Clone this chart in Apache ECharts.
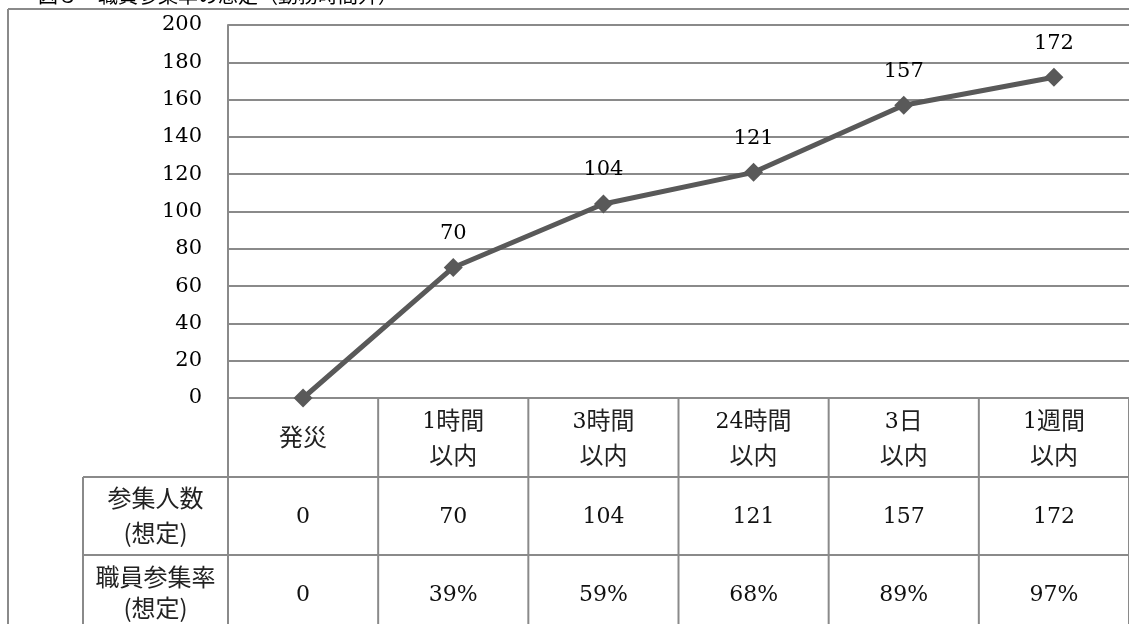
<!DOCTYPE html>
<html style="height: 100%">
<head>
	<meta charset="utf-8">
	<title>職員参集率の想定</title>
	<script src="https://cdn.jsdelivr.net/npm/echarts@6/dist/echarts.min.js"></script>
</head>
<body style="height: 100%; margin: 0; background: #fff">
	<div id="main" style="width: 1129px; height: 624px"></div>
	<script type="text/javascript">
		// chart data
		var titleText = '図３　職員参集率の想定（勤務時間外）';
		var categories = ['発災', '1時間\n以内', '3時間\n以内', '24時間\n以内', '3日\n以内', '1週間\n以内'];
		var staffCount = [0, 70, 104, 121, 157, 172];
		var staffRate = ['0', '39%', '59%', '68%', '89%', '97%'];
		var rowLabels = ['参集人数\n(想定)', '職員参集率\n(想定)'];
		var yTicks = [0, 20, 40, 60, 80, 100, 120, 140, 160, 180, 200];

		var serif = "'DejaVu Serif', serif";
		var cjk = "'Noto Sans CJK JP', sans-serif";
		var lineCol = '#595959';
		var gridCol = '#8a8a8a';

		var dom = document.getElementById('main');
		var myChart = echarts.init(dom);

		var option = {
			animation: false,
			grid: { left: 228, right: -5, top: 25, bottom: 226 },
			xAxis: {
				type: 'category',
				data: categories,
				boundaryGap: true,
				axisLine: { show: true, lineStyle: { color: gridCol, width: 2 } },
				axisTick: { show: false },
				axisLabel: { show: false },
				splitLine: { show: false }
			},
			yAxis: {
				type: 'value',
				min: yTicks[0],
				max: yTicks[yTicks.length - 1],
				interval: 20,
				axisLine: { show: true, lineStyle: { color: gridCol, width: 2 } },
				axisTick: { show: false },
				axisLabel: { color: '#000', fontFamily: serif, fontSize: 21, margin: 26 },
				splitLine: { show: true, lineStyle: { color: gridCol, width: 2 } }
			},
			series: [{
				type: 'line',
				data: staffCount,
				symbol: 'diamond',
				symbolSize: 19,
				lineStyle: { color: lineCol, width: 5 },
				itemStyle: { color: lineCol },
				label: {
					show: true,
					position: 'top',
					distance: 14,
					color: '#000',
					fontFamily: serif,
					fontSize: 21,
					formatter: function(p) { return p.value === 0 ? '' : p.value; }
				}
			}]
		};
		myChart.setOption(option);

		// data table under the plot
		var g = [];
		var x0 = myChart.convertToPixel({ xAxisIndex: 0 }, 0);
		var x1 = myChart.convertToPixel({ xAxisIndex: 0 }, 1);
		var colW = x1 - x0;
		var yBase = myChart.convertToPixel({ yAxisIndex: 0 }, 0);
		var row1 = yBase + 79, row2 = row1 + 78, bottom = 650;
		var labelLeft = 83;
		var lineSt = { stroke: gridCol, lineWidth: 2 };

		// outer frame
		g.push({ type: 'line', shape: { x1: 8, y1: 9, x2: 8, y2: bottom }, style: lineSt });
		g.push({ type: 'line', shape: { x1: 8, y1: 9, x2: 1140, y2: 9 }, style: lineSt });
		g.push({ type: 'text', left: 38, top: -15, style: { text: titleText, font: "20px " + cjk, fill: '#000' } });

		for (var b = 0; b <= categories.length; b++) {
			var xb = x0 - colW / 2 + b * colW;
			g.push({ type: 'line', shape: { x1: xb, y1: yBase, x2: xb, y2: bottom }, style: lineSt });
		}
		g.push({ type: 'line', shape: { x1: labelLeft, y1: row1, x2: labelLeft, y2: bottom }, style: lineSt });
		g.push({ type: 'line', shape: { x1: labelLeft, y1: row1, x2: 1140, y2: row1 }, style: lineSt });
		g.push({ type: 'line', shape: { x1: labelLeft, y1: row2, x2: 1140, y2: row2 }, style: lineSt });

		// digits in serif, japanese in cjk font; digits next to kanji get nudged down
		var richify = function(s) {
			return s.split('\n').map(function(line) {
				var mixed = /[0-9%]/.test(line) && /[^0-9%]/.test(line);
				return line.replace(/([0-9%]+)|([^0-9%]+)/g, function(m, d, j) {
					return d ? '{' + (mixed ? 'm' : 'n') + '|' + d + '}' : '{j|' + j + '}';
				});
			}).join('\n');
		};
		var txt = function(x, y, s, lh) {
			lh = lh || 34;
			return {
				type: 'text', x: x, y: y,
				style: {
					text: richify(s), align: 'center', verticalAlign: 'middle',
					rich: {
						n: { fontFamily: serif, fontSize: 22, fill: '#111', lineHeight: lh },
						m: { fontFamily: serif, fontSize: 22, fill: '#111', lineHeight: lh, padding: [5, 0, 0, 0] },
						j: { fontFamily: cjk, fontSize: 24, fill: '#222', lineHeight: lh }
					}
				}
			};
		};
		var lx = (labelLeft + x0 - colW / 2) / 2;
		g.push(txt(lx, row1 + 38, rowLabels[0], 35));
		g.push(txt(lx, row2 + 37, rowLabels[1], 31));

		for (var i = 0; i < categories.length; i++) {
			var cx = myChart.convertToPixel({ xAxisIndex: 0 }, i);
			g.push(txt(cx, yBase + 39, categories[i], 35));
			g.push(txt(cx, row1 + 40, String(staffCount[i])));
			g.push(txt(cx, row2 + 40, staffRate[i]));
		}

		myChart.setOption({ graphic: g });
	</script>
</body>
</html>
